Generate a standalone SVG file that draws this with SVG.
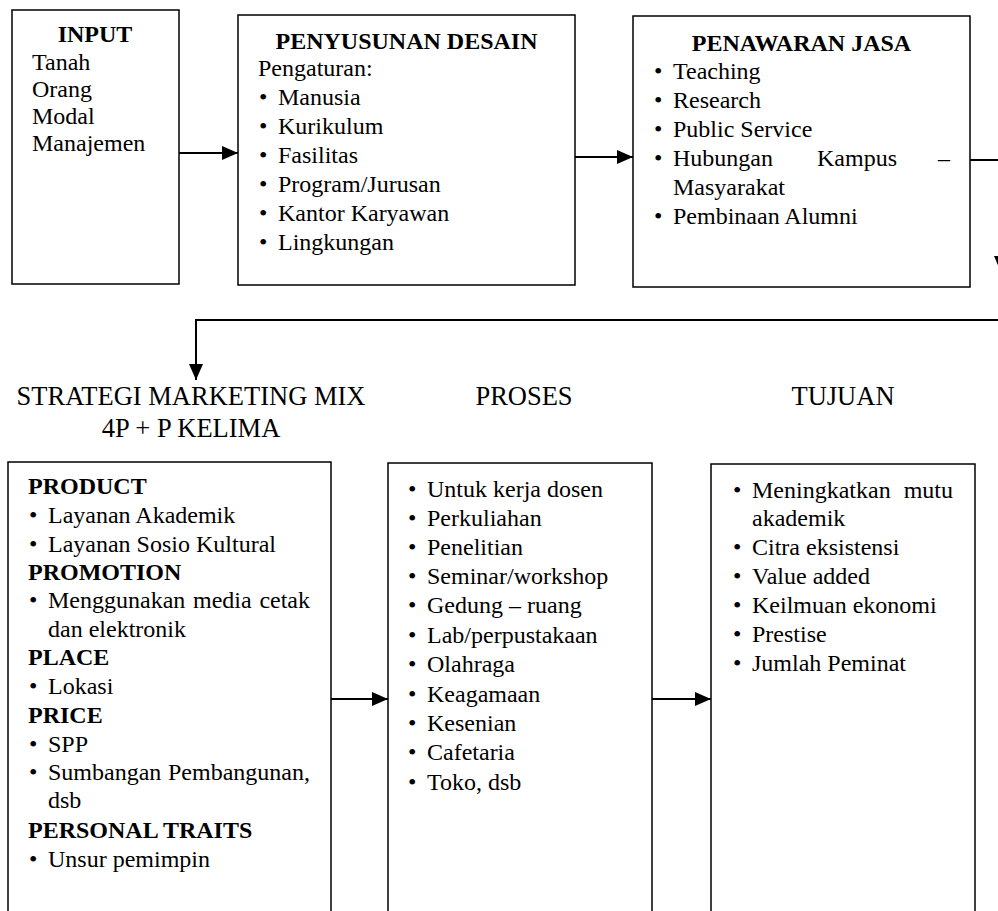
<svg xmlns="http://www.w3.org/2000/svg" width="998" height="911" viewBox="0 0 998 911">
<style>
.box{fill:#fff;stroke:#000;stroke-width:1.5}
.t{font-family:"Liberation Serif","Times New Roman",serif;font-size:24px;fill:#000}
.b{font-weight:bold}
.h{font-family:"Liberation Serif","Times New Roman",serif;font-size:26.5px;fill:#000}
.c{fill:none;stroke:#000;stroke-width:2}
</style>
<defs>
<marker id="ah" markerUnits="userSpaceOnUse" markerWidth="16" markerHeight="14" refX="16" refY="7" orient="auto">
<path d="M0,0 L16,7 L0,14 Z" fill="#000"/>
</marker>
</defs>
<rect width="998" height="911" fill="#fff"/>

<g id="input">
<rect class="box" x="12" y="10" width="167" height="274"/>
<text class="t b" x="95" y="42" text-anchor="middle">INPUT</text>
<text class="t" x="32" y="70">Tanah</text>
<text class="t" x="32" y="97">Orang</text>
<text class="t" x="32" y="124">Modal</text>
<text class="t" x="32" y="151">Manajemen</text>
</g>

<g id="penyusunan">
<rect class="box" x="238" y="15" width="337" height="270"/>
<text class="t b" x="406.5" y="49" text-anchor="middle">PENYUSUNAN DESAIN</text>
<text class="t" x="258" y="76">Pengaturan:</text>
<text class="t" x="259" y="105">•</text><text class="t" x="278" y="105">Manusia</text>
<text class="t" x="259" y="134">•</text><text class="t" x="278" y="134">Kurikulum</text>
<text class="t" x="259" y="163">•</text><text class="t" x="278" y="163">Fasilitas</text>
<text class="t" x="259" y="192">•</text><text class="t" x="278" y="192">Program/Jurusan</text>
<text class="t" x="259" y="221">•</text><text class="t" x="278" y="221">Kantor Karyawan</text>
<text class="t" x="259" y="250">•</text><text class="t" x="278" y="250">Lingkungan</text>
</g>

<g id="penawaran">
<rect class="box" x="633" y="16" width="337" height="271"/>
<text class="t b" x="801.5" y="51" text-anchor="middle">PENAWARAN JASA</text>
<text class="t" x="654" y="79">•</text><text class="t" x="673" y="79">Teaching</text>
<text class="t" x="654" y="108">•</text><text class="t" x="673" y="108">Research</text>
<text class="t" x="654" y="137">•</text><text class="t" x="673" y="137">Public Service</text>
<text class="t" x="654" y="166">•</text><text class="t" x="673" y="166">Hubungan</text><text class="t" x="817" y="166">Kampus</text><text class="t" x="950" y="166" text-anchor="end">–</text>
<text class="t" x="673" y="195">Masyarakat</text>
<text class="t" x="654" y="224">•</text><text class="t" x="673" y="224">Pembinaan Alumni</text>
</g>

<g id="judul-strategi">
<text class="h" x="191" y="405" text-anchor="middle">STRATEGI MARKETING MIX</text>
<text class="h" x="191" y="437" text-anchor="middle">4P + P KELIMA</text>
</g>
<g id="judul-proses">
<text class="h" x="524" y="405" text-anchor="middle">PROSES</text>
</g>
<g id="judul-tujuan">
<text class="h" x="843" y="405" text-anchor="middle">TUJUAN</text>
</g>

<g id="strategi">
<rect class="box" x="8" y="462" width="323" height="470"/>
<text class="t b" x="28" y="494">PRODUCT</text>
<text class="t" x="29" y="523">•</text><text class="t" x="48" y="523">Layanan Akademik</text>
<text class="t" x="29" y="552">•</text><text class="t" x="48" y="552">Layanan Sosio Kultural</text>
<text class="t b" x="28" y="580">PROMOTION</text>
<text class="t" x="29" y="608">•</text><text class="t" x="48" y="608">Menggunakan</text><text class="t" x="193" y="608">media</text><text class="t" x="310" y="608" text-anchor="end">cetak</text>
<text class="t" x="48" y="637">dan elektronik</text>
<text class="t b" x="28" y="665">PLACE</text>
<text class="t" x="29" y="694">•</text><text class="t" x="48" y="694">Lokasi</text>
<text class="t b" x="28" y="723">PRICE</text>
<text class="t" x="29" y="752">•</text><text class="t" x="48" y="752">SPP</text>
<text class="t" x="29" y="780">•</text><text class="t" x="48" y="780">Sumbangan</text><text class="t" x="310" y="780" text-anchor="end">Pembangunan,</text>
<text class="t" x="48" y="808">dsb</text>
<text class="t b" x="28" y="838">PERSONAL TRAITS</text>
<text class="t" x="29" y="867">•</text><text class="t" x="48" y="867">Unsur pemimpin</text>
</g>

<g id="proses">
<rect class="box" x="388" y="463" width="264" height="470"/>
<text class="t" x="408" y="497">•</text><text class="t" x="427" y="497">Untuk kerja dosen</text>
<text class="t" x="408" y="526">•</text><text class="t" x="427" y="526">Perkuliahan</text>
<text class="t" x="408" y="555">•</text><text class="t" x="427" y="555">Penelitian</text>
<text class="t" x="408" y="584">•</text><text class="t" x="427" y="584">Seminar/workshop</text>
<text class="t" x="408" y="613">•</text><text class="t" x="427" y="613">Gedung – ruang</text>
<text class="t" x="408" y="643">•</text><text class="t" x="427" y="643">Lab/perpustakaan</text>
<text class="t" x="408" y="672">•</text><text class="t" x="427" y="672">Olahraga</text>
<text class="t" x="408" y="702">•</text><text class="t" x="427" y="702">Keagamaan</text>
<text class="t" x="408" y="731">•</text><text class="t" x="427" y="731">Kesenian</text>
<text class="t" x="408" y="760">•</text><text class="t" x="427" y="760">Cafetaria</text>
<text class="t" x="408" y="790">•</text><text class="t" x="427" y="790">Toko, dsb</text>
</g>

<g id="tujuan">
<rect class="box" x="711" y="464" width="264" height="470"/>
<text class="t" x="733" y="498">•</text><text class="t" x="752" y="498">Meningkatkan</text><text class="t" x="953" y="498" text-anchor="end">mutu</text>
<text class="t" x="752" y="526">akademik</text>
<text class="t" x="733" y="555">•</text><text class="t" x="752" y="555">Citra eksistensi</text>
<text class="t" x="733" y="584">•</text><text class="t" x="752" y="584">Value added</text>
<text class="t" x="733" y="613">•</text><text class="t" x="752" y="613">Keilmuan ekonomi</text>
<text class="t" x="733" y="642">•</text><text class="t" x="752" y="642">Prestise</text>
<text class="t" x="733" y="671">•</text><text class="t" x="752" y="671">Jumlah Peminat</text>
</g>

<g id="connectors">
<path class="c" d="M179,153 H238" marker-end="url(#ah)"/>
<path class="c" d="M575,157 H633" marker-end="url(#ah)"/>
<path class="c" d="M970,160 H1001 V272" marker-end="url(#ah)"/>
<path class="c" d="M1001,320 H196 V380" marker-end="url(#ah)"/>
<path class="c" d="M331,699 H388" marker-end="url(#ah)"/>
<path class="c" d="M652,699 H711" marker-end="url(#ah)"/>
</g>
</svg>
